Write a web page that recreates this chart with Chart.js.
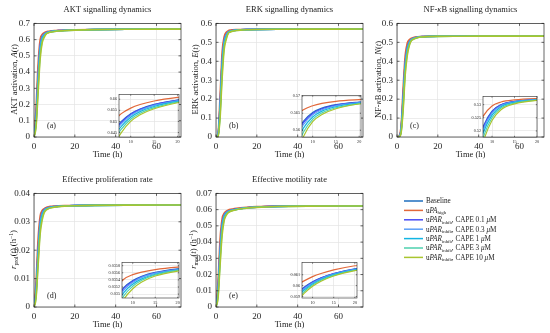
<!DOCTYPE html>
<html>
<head>
<meta charset="utf-8">
<script src="https://cdn.jsdelivr.net/npm/chart.js@4.4.0/dist/chart.umd.min.js"></script>
<style>
  body { margin: 0; background: #fff; }
  #fig { position: relative; width: 550px; height: 333px; overflow: hidden; }
  #fig canvas { position: absolute; }
</style>
</head>
<body>
<div id="fig"></div>
<script>
// time points (h)
const time = [0, 1, 2, 3, 4, 5, 6, 7, 8, 10, 12, 15, 20, 30, 45, 72];

const seriesNames = ['Baseline', 'uPA high', 'uPAR inhib, CAPE 0.1 uM', 'uPAR inhib, CAPE 0.3 uM',
  'uPAR inhib, CAPE 1 uM', 'uPAR inhib, CAPE 3 uM', 'uPAR inhib, CAPE 10 uM'];
const seriesColors = ['#1f6fbf', '#e2683a', '#4a4cf5', '#5d9ff7', '#12b5e3', '#4fd1ae', '#a9c52f'];

// one row per series, in seriesNames order
const aktValues = [
  [0, 0.12, 0.38, 0.565, 0.620, 0.636, 0.6435, 0.6475, 0.6500, 0.6535, 0.6556, 0.6577, 0.6596, 0.6622, 0.6640, 0.6650],
  [0, 0.18, 0.45, 0.600, 0.632, 0.643, 0.6485, 0.6515, 0.6535, 0.6560, 0.6576, 0.6592, 0.6608, 0.6628, 0.6642, 0.6652],
  [0, 0.115, 0.37, 0.560, 0.618, 0.635, 0.6430, 0.6470, 0.6496, 0.6532, 0.6554, 0.6575, 0.6595, 0.6621, 0.6639, 0.6650],
  [0, 0.105, 0.355, 0.550, 0.613, 0.632, 0.6418, 0.6462, 0.6489, 0.6527, 0.6550, 0.6572, 0.6593, 0.6620, 0.6639, 0.6650],
  [0, 0.09, 0.33, 0.530, 0.604, 0.627, 0.6400, 0.6448, 0.6478, 0.6519, 0.6544, 0.6567, 0.6590, 0.6618, 0.6638, 0.6649],
  [0, 0.075, 0.30, 0.505, 0.593, 0.621, 0.6378, 0.6432, 0.6465, 0.6510, 0.6537, 0.6562, 0.6587, 0.6616, 0.6637, 0.6649],
  [0, 0.06, 0.27, 0.480, 0.580, 0.614, 0.6352, 0.6413, 0.6450, 0.6500, 0.6530, 0.6557, 0.6584, 0.6614, 0.6636, 0.6648]
];
const erkValues = [
  [0, 0.012, 0.17, 0.40, 0.510, 0.543, 0.5555, 0.5602, 0.5626, 0.5652, 0.5665, 0.5675, 0.5683, 0.5693, 0.5699, 0.5702],
  [0, 0.02, 0.22, 0.45, 0.530, 0.553, 0.5615, 0.5648, 0.5660, 0.5672, 0.5679, 0.5685, 0.5690, 0.5697, 0.5701, 0.5703],
  [0, 0.011, 0.165, 0.395, 0.507, 0.541, 0.5548, 0.5597, 0.5622, 0.5649, 0.5663, 0.5674, 0.5682, 0.5693, 0.5699, 0.5702],
  [0, 0.010, 0.155, 0.385, 0.502, 0.538, 0.5538, 0.5589, 0.5616, 0.5645, 0.5660, 0.5672, 0.5681, 0.5692, 0.5698, 0.5702],
  [0, 0.008, 0.14, 0.365, 0.492, 0.532, 0.5520, 0.5576, 0.5606, 0.5639, 0.5656, 0.5669, 0.5680, 0.5691, 0.5698, 0.5701],
  [0, 0.006, 0.12, 0.34, 0.478, 0.524, 0.5495, 0.5560, 0.5594, 0.5632, 0.5651, 0.5666, 0.5678, 0.5690, 0.5697, 0.5701],
  [0, 0.004, 0.10, 0.31, 0.462, 0.515, 0.5468, 0.5543, 0.5581, 0.5625, 0.5646, 0.5663, 0.5677, 0.5689, 0.5697, 0.5701]
];
const nfkbValues = [
  [0, 0.003, 0.04, 0.21, 0.39, 0.472, 0.5030, 0.5160, 0.5215, 0.5275, 0.5300, 0.5313, 0.5320, 0.5324, 0.5326, 0.5327],
  [0, 0.005, 0.06, 0.26, 0.43, 0.495, 0.5140, 0.5215, 0.5255, 0.5295, 0.5310, 0.5318, 0.5323, 0.5326, 0.5327, 0.5327],
  [0, 0.003, 0.039, 0.205, 0.386, 0.469, 0.5015, 0.5155, 0.5211, 0.5273, 0.5299, 0.5312, 0.5320, 0.5324, 0.5326, 0.5327],
  [0, 0.003, 0.036, 0.195, 0.378, 0.464, 0.4990, 0.5145, 0.5203, 0.5268, 0.5296, 0.5311, 0.5319, 0.5324, 0.5326, 0.5327],
  [0, 0.002, 0.031, 0.18, 0.365, 0.455, 0.4950, 0.5128, 0.5190, 0.5260, 0.5292, 0.5309, 0.5318, 0.5323, 0.5326, 0.5327],
  [0, 0.002, 0.026, 0.16, 0.345, 0.442, 0.4890, 0.5105, 0.5173, 0.5250, 0.5287, 0.5306, 0.5317, 0.5323, 0.5326, 0.5327],
  [0, 0.001, 0.021, 0.14, 0.325, 0.428, 0.4820, 0.5080, 0.5155, 0.5240, 0.5281, 0.5303, 0.5316, 0.5323, 0.5326, 0.5327]
];
const prolValues = [
  [0, 0.0060, 0.0200, 0.0300, 0.0333, 0.03435, 0.03478, 0.03500, 0.03518, 0.03538, 0.03550, 0.03561, 0.03571, 0.03581, 0.03588, 0.03591],
  [0, 0.0090, 0.0240, 0.0320, 0.0340, 0.03465, 0.03505, 0.03528, 0.03542, 0.03555, 0.03562, 0.03569, 0.03576, 0.03584, 0.03589, 0.03592],
  [0, 0.0058, 0.0195, 0.0297, 0.0331, 0.03425, 0.03474, 0.03497, 0.03516, 0.03536, 0.03549, 0.03560, 0.03570, 0.03581, 0.03587, 0.03591],
  [0, 0.0053, 0.0187, 0.0292, 0.0328, 0.03410, 0.03465, 0.03491, 0.03511, 0.03533, 0.03547, 0.03559, 0.03569, 0.03580, 0.03587, 0.03591],
  [0, 0.0045, 0.0175, 0.0282, 0.0322, 0.03385, 0.03452, 0.03482, 0.03504, 0.03528, 0.03543, 0.03556, 0.03568, 0.03579, 0.03587, 0.03591],
  [0, 0.0037, 0.0160, 0.0270, 0.0315, 0.03355, 0.03434, 0.03470, 0.03495, 0.03522, 0.03539, 0.03554, 0.03567, 0.03579, 0.03586, 0.03590],
  [0, 0.0030, 0.0145, 0.0256, 0.0306, 0.03320, 0.03415, 0.03458, 0.03485, 0.03515, 0.03534, 0.03551, 0.03565, 0.03578, 0.03586, 0.03590]
];
const motValues = [
  [0, 0.0110, 0.0360, 0.0515, 0.0567, 0.0583, 0.05910, 0.05955, 0.05985, 0.06035, 0.06072, 0.06112, 0.06155, 0.06200, 0.06222, 0.06230],
  [0, 0.0160, 0.0420, 0.0545, 0.0578, 0.0591, 0.05975, 0.06020, 0.06044, 0.06083, 0.06112, 0.06145, 0.06183, 0.06215, 0.06228, 0.06232],
  [0, 0.0105, 0.0350, 0.0510, 0.0565, 0.0582, 0.05903, 0.05950, 0.05981, 0.06032, 0.06069, 0.06110, 0.06153, 0.06199, 0.06222, 0.06230],
  [0, 0.0097, 0.0335, 0.0502, 0.0561, 0.0580, 0.05890, 0.05940, 0.05972, 0.06025, 0.06064, 0.06106, 0.06150, 0.06197, 0.06221, 0.06229],
  [0, 0.0083, 0.0310, 0.0485, 0.0553, 0.0576, 0.05870, 0.05925, 0.05960, 0.06016, 0.06057, 0.06101, 0.06146, 0.06195, 0.06220, 0.06229],
  [0, 0.0068, 0.0285, 0.0465, 0.0543, 0.0571, 0.05845, 0.05905, 0.05944, 0.06005, 0.06049, 0.06095, 0.06142, 0.06193, 0.06219, 0.06228],
  [0, 0.0055, 0.0258, 0.0442, 0.0532, 0.0565, 0.05815, 0.05885, 0.05928, 0.05994, 0.06041, 0.06089, 0.06138, 0.06190, 0.06218, 0.06228]
];

// tick labels
const timeTicks = [0, 20, 40, 60];
const insetTimeTicks = [10, 15, 20];
const aktTicks = [0, 0.1, 0.2, 0.3, 0.4, 0.5, 0.6, 0.7];
const erkTicks = [0, 0.1, 0.2, 0.3, 0.4, 0.5, 0.6];
const nfkbTicks = [0, 0.1, 0.2, 0.3, 0.4, 0.5, 0.6];
const prolTicks = [0, 0.01, 0.02, 0.03, 0.04];
const motTicks = [0, 0.01, 0.02, 0.03, 0.04, 0.05, 0.06, 0.07];
const aktInsetTicks = [0.645, 0.65, 0.655, 0.66];
const erkInsetTicks = [0.56, 0.565, 0.57];
const nfkbInsetTicks = [0.52, 0.525, 0.53];
const prolInsetTicks = [0.035, 0.0352, 0.0354, 0.0356, 0.0358];
const motInsetTicks = [0.059, 0.06, 0.061];

const FONT = '"Liberation Serif", "DejaVu Serif", serif';
const INK = '#1a1a1a';
const fig = document.getElementById('fig');

// white plot background, box and inward tick marks (MATLAB style)
const frame = {
  id: 'frame',
  beforeDraw(chart) {
    const {ctx, chartArea: a} = chart;
    ctx.save();
    ctx.fillStyle = '#fff';
    ctx.fillRect(a.left, a.top, a.width, a.height);
    ctx.restore();
  },
  afterDatasetsDraw(chart, args, opts) {
    const {ctx, chartArea: a, scales} = chart;
    const len = opts.tickLen;
    ctx.save();
    ctx.strokeStyle = '#262626';
    ctx.lineWidth = opts.lineWidth;
    ctx.beginPath();
    scales.x.ticks.forEach(t => {
      const p = scales.x.getPixelForValue(t.value);
      ctx.moveTo(p, a.bottom); ctx.lineTo(p, a.bottom - len);
      ctx.moveTo(p, a.top); ctx.lineTo(p, a.top + len);
    });
    scales.y.ticks.forEach(t => {
      const p = scales.y.getPixelForValue(t.value);
      ctx.moveTo(a.left, p); ctx.lineTo(a.left + len, p);
      ctx.moveTo(a.right, p); ctx.lineTo(a.right - len, p);
    });
    ctx.stroke();
    ctx.strokeRect(a.left, a.top, a.width, a.height);
    ctx.restore();
  }
};

function axis(min, max, ticks, size, pad, fit) {
  return {
    type: 'linear', min: min, max: max,
    afterBuildTicks: s => { s.ticks = ticks.map(v => ({value: v})); },
    afterFit: fit,
    border: {display: false},
    grid: {color: '#e4e4e4', lineWidth: 0.7, drawTicks: false},
    ticks: {autoSkip: false, maxRotation: 0, padding: pad, color: '#262626',
      font: {family: FONT, size: size}, callback: v => String(v)}
  };
}

function addCanvas(left, top, w, h, z) {
  const c = document.createElement('canvas');
  c.width = w;
  c.height = h;
  c.style.left = left + 'px';
  c.style.top = top + 'px';
  c.style.zIndex = z;
  fig.appendChild(c);
  return c;
}

// box = plot area in page pixels, s = sizes for this kind of chart
function plot(box, values, xr, xt, yr, yt, s, z) {
  const c = addCanvas(box.x - s.yW, box.y - s.padT, s.yW + box.w + s.padR, s.padT + box.h + s.xH, z);
  return new Chart(c, {
    type: 'line',
    data: {
      datasets: values.map((vals, i) => ({
        label: seriesNames[i],
        data: time.map((t, k) => ({x: t, y: vals[k]})),
        borderColor: seriesColors[i],
        borderWidth: s.lw,
        pointRadius: 0,
        cubicInterpolationMode: 'monotone',
        order: values.length - i
      }))
    },
    options: {
      responsive: false, animation: false, events: [],
      layout: {padding: {top: s.padT, right: s.padR, left: 0, bottom: 0}},
      plugins: {legend: {display: false}, tooltip: {enabled: false},
        frame: {tickLen: s.tickLen, lineWidth: s.frameW}},
      scales: {
        x: axis(xr[0], xr[1], xt, s.font, s.pad, a => { a.height = s.xH; }),
        y: axis(yr[0], yr[1], yt, s.font, s.pad, a => { a.width = s.yW; })
      }
    },
    plugins: [frame]
  });
}

const mainSize = {yW: 34, xH: 16, padT: 8, padR: 10, font: 9, pad: 4, lw: 1.6, tickLen: 2.5, frameW: 0.7};
const insetSize = {yW: 20, xH: 8, padT: 4, padR: 6, font: 4.2, pad: 2, lw: 1.2, tickLen: 1.2, frameW: 0.6};

// text pieces: [text, style] with style '' | 'i' | 'sub' | 'sup'
const panels = [
  {values: aktValues, yr: [0, 0.7], yt: aktTicks, box: {x: 34, y: 22, w: 147, h: 115},
   inset: {x: 119, y: 94, w: 60, h: 43}, ixr: [7.5, 20.3], iyr: [0.643, 0.6621], iyt: aktInsetTicks,
   title: [['AKT signalling dynamics']],
   ylab: [['AKT activation, '], ['A', 'i'], ['('], ['t', 'i'], [')']], ylx: 14, tag: '(a)'},
  {values: erkValues, yr: [0, 0.6], yt: erkTicks, box: {x: 216, y: 22, w: 147, h: 115},
   inset: {x: 302, y: 95, w: 59, h: 42}, ixr: [7.7, 20.4], iyr: [0.558, 0.5702], iyt: erkInsetTicks,
   title: [['ERK signalling dynamics']],
   ylab: [['ERK activation, '], ['E', 'i'], ['('], ['t', 'i'], [')']], ylx: 195, tag: '(b)'},
  {values: nfkbValues, yr: [0, 0.6], yt: nfkbTicks, box: {x: 397, y: 22, w: 147, h: 115},
   inset: {x: 483, y: 96, w: 54, h: 41}, ixr: [8, 20], iyr: [0.5177, 0.5331], iyt: nfkbInsetTicks,
   title: [['NF-'], ['κ', 'i'], ['B signalling dynamics']],
   ylab: [['NF-'], ['κ', 'i'], ['B activation, '], ['N', 'i'], ['('], ['t', 'i'], [')']], ylx: 378, tag: '(c)'},
  {values: prolValues, yr: [0, 0.04], yt: prolTicks, box: {x: 34, y: 192, w: 147, h: 115},
   inset: {x: 122, y: 262, w: 57, h: 36}, ixr: [7.6, 20.3], iyr: [0.03489, 0.03589], iyt: prolInsetTicks,
   title: [['Effective proliferation rate']],
   ylab: [['r', 'i'], ['prol', 'sub'], ['('], ['t', 'i'], [') (h'], ['−1', 'sup'], [')']], ylx: 13, tag: '(d)'},
  {values: motValues, yr: [0, 0.07], yt: motTicks, box: {x: 216, y: 192, w: 147, h: 115},
   inset: {x: 302, y: 262, w: 55, h: 36}, ixr: [7.5, 20.5], iyr: [0.05886, 0.06213], iyt: motInsetTicks,
   title: [['Effective motility rate']],
   ylab: [['r', 'i'], ['mot', 'sub'], ['('], ['t', 'i'], [') (h'], ['−1', 'sup'], [')']], ylx: 193, tag: '(e)'}
];

const legendText = [
  [['Baseline']],
  [['u'], ['PA', 'i'], ['high', 'sub']],
  [['u'], ['PAR', 'i'], ['inhib', 'sub'], [', CAPE 0.1 '], ['μ', 'i'], ['M']],
  [['u'], ['PAR', 'i'], ['inhib', 'sub'], [', CAPE 0.3 '], ['μ', 'i'], ['M']],
  [['u'], ['PAR', 'i'], ['inhib', 'sub'], [', CAPE 1 '], ['μ', 'i'], ['M']],
  [['u'], ['PAR', 'i'], ['inhib', 'sub'], [', CAPE 3 '], ['μ', 'i'], ['M']],
  [['u'], ['PAR', 'i'], ['inhib', 'sub'], [', CAPE 10 '], ['μ', 'i'], ['M']]
];

// titles, axis labels, panel tags and legend go on one text layer on top
const textLayer = addCanvas(0, 0, 550, 333, 10);
const tctx = textLayer.getContext('2d');

function pieceFont(p, size) {
  const small = p[1] === 'sub' || p[1] === 'sup';
  return (p[1] === 'i' ? 'italic ' : '') + (small ? size * 0.68 : size) + 'px ' + FONT;
}

// y is the visual middle of the line
function richText(pieces, x, y, size, align, rot) {
  const ctx = tctx;
  ctx.save();
  ctx.translate(x, y);
  if (rot) ctx.rotate(rot);
  ctx.fillStyle = INK;
  ctx.textBaseline = 'alphabetic';
  let w = 0;
  pieces.forEach(p => { ctx.font = pieceFont(p, size); w += ctx.measureText(p[0]).width; });
  let cx = align === 'left' ? 0 : -w / 2;
  pieces.forEach(p => {
    ctx.font = pieceFont(p, size);
    const dy = p[1] === 'sub' ? size * 0.22 : p[1] === 'sup' ? -size * 0.38 : 0;
    ctx.fillText(p[0], cx, size * 0.34 + dy);
    cx += ctx.measureText(p[0]).width;
  });
  ctx.restore();
}

panels.forEach(p => {
  plot(p.box, p.values, [0, 72], timeTicks, p.yr, p.yt, mainSize, 1);
  plot(p.inset, p.values, p.ixr, insetTimeTicks, p.iyr, p.iyt, insetSize, 2);
  const cx = p.box.x + p.box.w / 2;
  richText(p.title, cx, p.box.y - 13, 8.5, 'center');
  richText([['Time (h)']], cx, p.box.y + p.box.h + 17, 8.5, 'center');
  richText(p.ylab, p.ylx, p.box.y + p.box.h / 2, 8.5, 'center', -Math.PI / 2);
  richText([[p.tag]], p.box.x + 13, p.box.y + 103, 8, 'left');
});

legendText.forEach((t, i) => {
  const y = 201 + i * 9.4;
  tctx.fillStyle = seriesColors[i];
  tctx.fillRect(404, y - 0.75, 19, 1.5);
  richText(t, 426, y, 7.2, 'left');
});
</script>
</body>
</html>
